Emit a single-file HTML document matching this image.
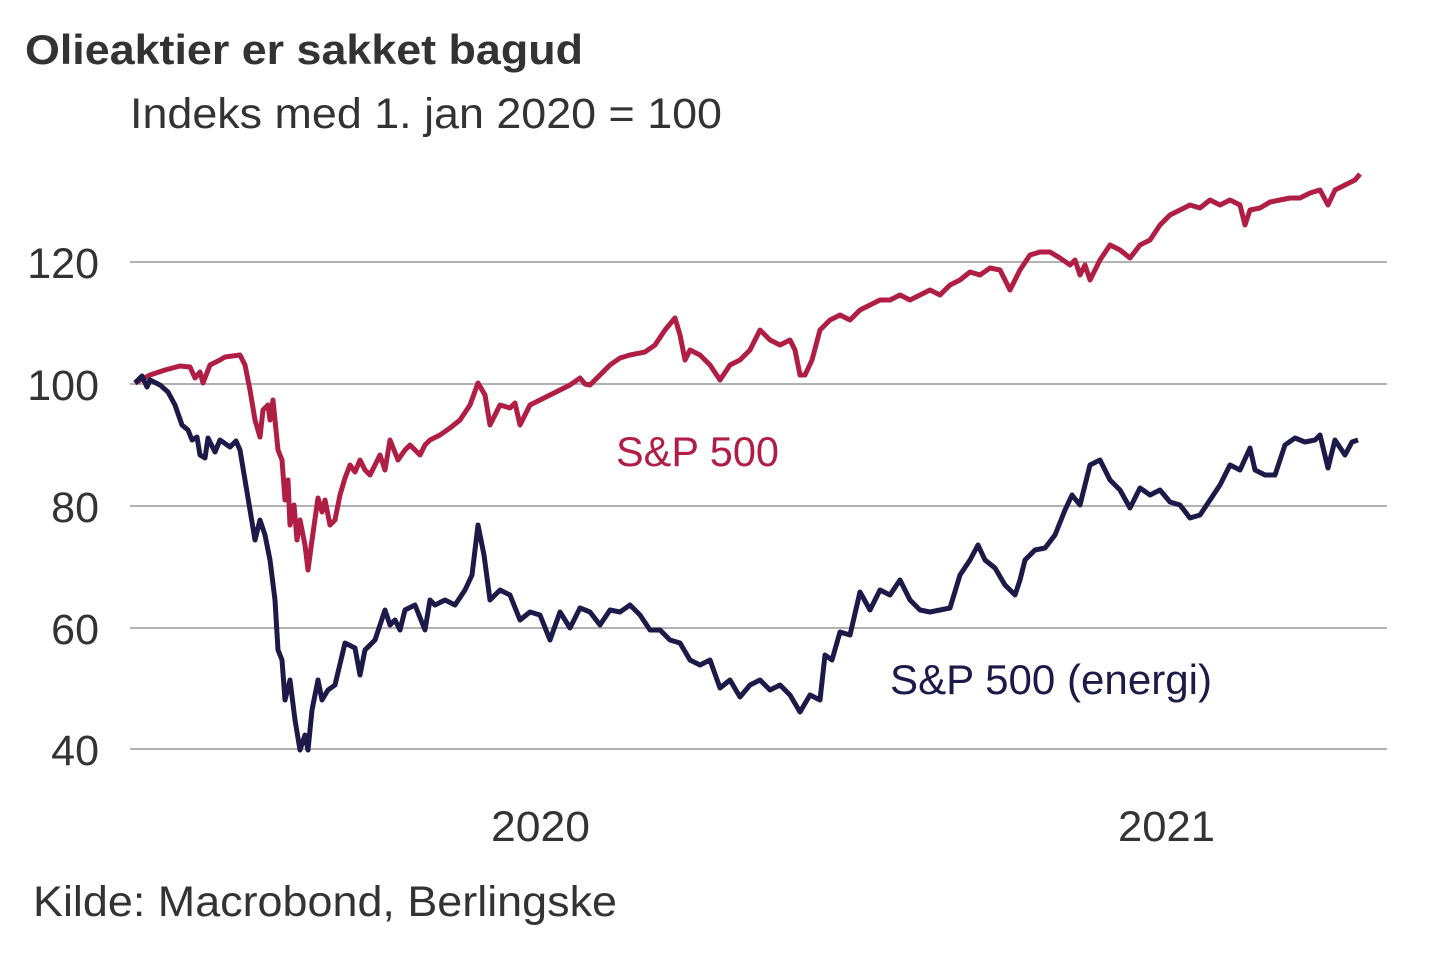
<!DOCTYPE html>
<html><head><meta charset="utf-8"><style>
html,body{margin:0;padding:0;background:#fff;}
body{width:1440px;height:960px;overflow:hidden;font-family:"Liberation Sans",Arial,sans-serif;}
</style></head><body>
<svg width="1440" height="960" xmlns="http://www.w3.org/2000/svg" font-family="Liberation Sans, Arial, sans-serif">
<text x="25" y="64" font-size="42" font-weight="bold" fill="#333" textLength="558" lengthAdjust="spacingAndGlyphs">Olieaktier er sakket bagud</text>
<text x="130" y="128" font-size="43" fill="#333" textLength="592" lengthAdjust="spacingAndGlyphs">Indeks med 1. jan 2020 = 100</text>
<g stroke="#999" stroke-width="1.5">
<line x1="130" y1="262" x2="1387" y2="262"/>
<line x1="130" y1="384" x2="1387" y2="384"/>
<line x1="130" y1="506" x2="1387" y2="506"/>
<line x1="130" y1="628" x2="1387" y2="628"/>
<line x1="130" y1="749" x2="1387" y2="749"/>
</g>
<g font-size="43" fill="#333" text-anchor="end">
<text x="99" y="278">120</text>
<text x="99" y="400">100</text>
<text x="99" y="522">80</text>
<text x="99" y="644">60</text>
<text x="99" y="765">40</text>
</g>
<g font-size="43" fill="#333">
<text x="491" y="841" textLength="99" lengthAdjust="spacingAndGlyphs">2020</text>
<text x="1118" y="841" textLength="97" lengthAdjust="spacingAndGlyphs">2021</text>
</g>
<text x="33" y="916" font-size="43" fill="#333" textLength="584" lengthAdjust="spacingAndGlyphs">Kilde: Macrobond, Berlingske</text>
<polyline fill="none" stroke="#b01e45" stroke-width="5" stroke-linejoin="round" points="135,383 150,375 165,370 180,366 190,367 195,378 200,372 203,383 210,365 220,360 225,357 240,355 245,365 250,390 255,420 260,437 263,410 268,405 270,420 273,400 278,450 282,460 285,500 288,480 290,525 294,505 297,540 300,520 305,545 308,570 312,540 318,498 322,512 325,500 330,525 335,520 340,495 345,478 350,465 355,472 360,460 365,470 370,475 380,455 385,470 390,440 398,460 405,450 410,445 420,455 425,445 430,440 440,435 450,428 460,420 470,405 478,383 485,395 490,425 500,405 510,408 515,403 520,425 530,405 540,400 550,395 560,390 570,385 580,378 585,384 590,385 600,375 610,365 620,358 630,355 645,352 655,345 665,330 675,318 680,335 685,360 690,350 700,355 710,365 720,380 730,365 740,360 750,350 760,330 770,340 780,345 790,340 795,350 800,375 805,375 812,360 820,330 830,320 840,315 850,320 860,310 870,305 880,300 890,300 900,295 910,300 920,295 930,290 940,295 950,285 960,280 970,272 980,275 990,268 1000,270 1005,280 1010,290 1020,270 1030,255 1040,252 1050,252 1060,258 1070,265 1075,260 1080,275 1085,265 1090,280 1100,260 1110,245 1120,250 1130,258 1140,245 1150,240 1160,225 1170,215 1180,210 1190,205 1200,208 1210,200 1220,205 1230,200 1240,205 1245,225 1250,210 1260,208 1270,202 1280,200 1290,198 1300,198 1310,193 1320,190 1328,205 1335,190 1345,185 1355,180 1360,174"/>
<polyline fill="none" stroke="#1c1a48" stroke-width="5" stroke-linejoin="round" points="135,383 142,376 147,387 150,380 160,385 168,392 175,405 182,425 188,430 192,440 197,437 200,455 205,458 208,438 215,452 220,440 230,447 236,441 240,450 245,480 250,510 255,540 260,520 265,535 270,560 275,600 278,650 282,660 285,700 290,680 295,720 300,750 305,735 308,750 312,710 318,680 322,700 328,690 335,685 345,643 355,648 360,675 365,650 375,640 385,610 390,625 395,620 400,630 405,610 415,605 425,630 430,600 435,605 445,600 455,605 465,590 472,575 478,525 484,555 490,600 500,590 510,595 520,620 530,612 540,615 550,640 560,612 570,628 580,608 590,612 600,625 610,610 620,612 630,605 640,615 650,630 660,630 670,640 680,643 690,660 700,665 710,660 720,688 730,680 740,697 750,685 760,680 770,690 780,685 790,695 800,712 810,695 820,700 825,655 832,660 840,632 850,635 860,592 870,610 880,590 890,595 900,580 910,600 920,610 930,612 940,610 950,608 960,575 970,560 978,545 985,560 995,568 1005,585 1015,595 1020,580 1025,560 1035,550 1045,548 1055,535 1065,510 1072,495 1080,505 1090,465 1100,460 1110,480 1120,490 1130,508 1140,488 1150,495 1160,490 1170,502 1180,505 1190,518 1200,515 1210,500 1220,485 1230,465 1240,470 1250,448 1255,470 1265,475 1275,475 1285,445 1295,438 1305,442 1315,440 1320,435 1328,468 1335,440 1345,455 1352,442 1358,440"/>
<text x="616" y="466" font-size="42" fill="#b01e45" textLength="163" lengthAdjust="spacingAndGlyphs">S&amp;P 500</text>
<text x="890" y="694" font-size="42" fill="#1c1a48" textLength="322" lengthAdjust="spacingAndGlyphs">S&amp;P 500 (energi)</text>
</svg>
</body></html>
